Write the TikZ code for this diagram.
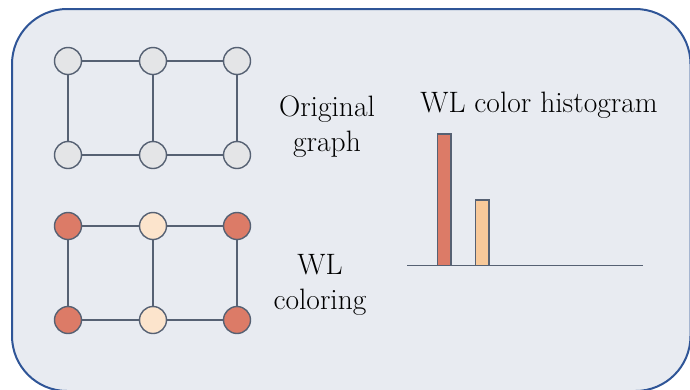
\documentclass[tikz,border=0pt]{standalone}

\definecolor{panelfill}{HTML}{E8EBF1}
\definecolor{panelline}{HTML}{2F5597}
\definecolor{edgegray}{HTML}{566173}
\definecolor{plainfill}{HTML}{E4E5E7}
\definecolor{wlred}{HTML}{DC7B67}
\definecolor{wlcream}{HTML}{FCE4CC}
\definecolor{barorange}{HTML}{F8C99A}

\begin{document}
\begin{tikzpicture}[
  x = 1pt, y = -1pt,
  vertex/.style = {circle, draw = edgegray, line width = 1.4pt, minimum size = 27pt, inner sep = 0pt},
  plainvertex/.style = {vertex, fill = plainfill},
  redvertex/.style = {vertex, fill = wlred},
  creamvertex/.style = {vertex, fill = wlcream},
  edge/.style = {draw = edgegray, line width = 1.6pt},
  bar/.style = {draw = edgegray, line width = 1.2pt},
  caption/.style = {font = \fontsize{29.5}{35}\selectfont, align = center},
  ]
  \useasboundingbox (0,0) rectangle (690,389);
  \clip (0,0) rectangle (690,389);
  \draw[panelline, fill = panelfill, line width = 2pt, rounded corners = 55pt]
    (12,9) rectangle (690.5,391);

  % original graph
  \node[plainvertex] (a1) at (68,61) {};
  \node[plainvertex] (a2) at (153,61) {};
  \node[plainvertex] (a3) at (237,61) {};
  \node[plainvertex] (b1) at (68,155) {};
  \node[plainvertex] (b2) at (153,155) {};
  \node[plainvertex] (b3) at (237,155) {};
  \draw[edge] (a1) -- (a2) -- (a3) (b1) -- (b2) -- (b3)
    (a1) -- (b1) (a2) -- (b2) (a3) -- (b3);

  % WL coloring
  \node[redvertex] (c1) at (68,226) {};
  \node[creamvertex] (c2) at (153,226) {};
  \node[redvertex] (c3) at (237,226) {};
  \node[redvertex] (d1) at (68,320) {};
  \node[creamvertex] (d2) at (153,320) {};
  \node[redvertex] (d3) at (237,320) {};
  \draw[edge] (c1) -- (c2) -- (c3) (d1) -- (d2) -- (d3)
    (c1) -- (d1) (c2) -- (d2) (c3) -- (d3);

  \node[caption] (orig) at (327,127) {Original\\graph};
  \node[caption] (wl) at (320,285) {WL\\coloring};
  \node[caption] (hist) at (539,105) {WL color histogram};

  % histogram
  \coordinate (axl) at (407,265.5);
  \coordinate (axr) at (643,265.5);
  \draw[bar, fill = wlred] (437.5,265.5) rectangle (451,134);
  \draw[bar, fill = barorange] (475.5,265.5) rectangle (489,200);
  \draw[edge] (axl) -- (axr);
\end{tikzpicture}
\end{document}
